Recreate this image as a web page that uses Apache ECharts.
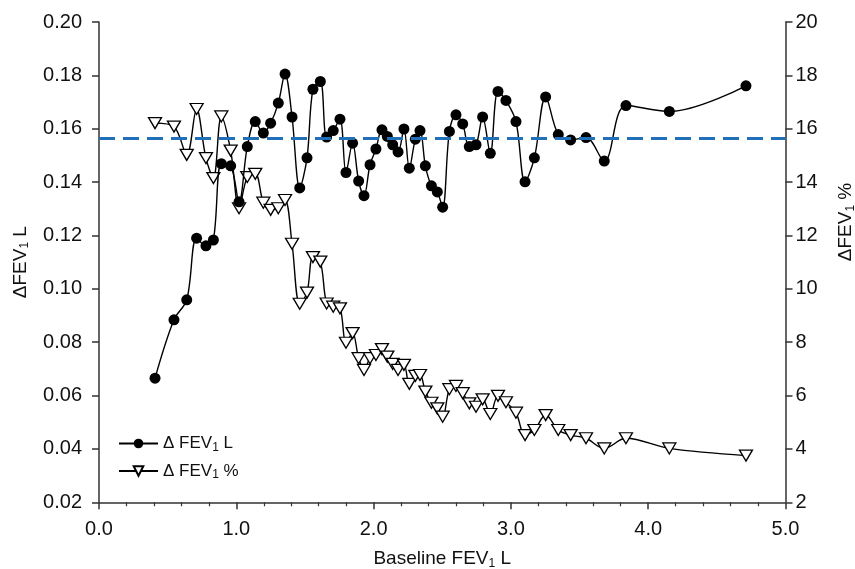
<!DOCTYPE html>
<html>
<head>
<meta charset="utf-8">
<script src="https://cdn.jsdelivr.net/npm/echarts@6/dist/echarts.min.js"></script>
<style>
  html, body { margin: 0; padding: 0; background: #fff; }
  #chart { width: 855px; height: 569px; }
</style>
</head>
<body>
<div id="chart"></div>
<script>
// Baseline FEV1 (L) for each group
const baselineFev1 = [
  0.408, 0.546, 0.639, 0.711, 0.779, 0.833, 0.891, 0.959, 1.020, 1.080,
  1.138, 1.197, 1.250, 1.306, 1.355, 1.406, 1.462, 1.515, 1.558, 1.612,
  1.658, 1.706, 1.755, 1.799, 1.847, 1.891, 1.930, 1.974, 2.017, 2.061,
  2.100, 2.139, 2.178, 2.221, 2.260, 2.304, 2.338, 2.377, 2.421, 2.464,
  2.503, 2.552, 2.600, 2.649, 2.697, 2.746, 2.794, 2.850, 2.906, 2.964,
  3.037, 3.103, 3.171, 3.253, 3.345, 3.435, 3.547, 3.680, 3.838, 4.154,
  4.712
];

// Change in FEV1, litres (left axis)
const deltaFev1L = [
  0.0665, 0.0884, 0.0959, 0.1190, 0.1161, 0.1183, 0.1469, 0.1461, 0.1326, 0.1533,
  0.1627, 0.1584, 0.1621, 0.1696, 0.1805, 0.1644, 0.1378, 0.1491, 0.1748, 0.1777,
  0.1569, 0.1593, 0.1636, 0.1436, 0.1546, 0.1404, 0.1349, 0.1465, 0.1524, 0.1596,
  0.1571, 0.1540, 0.1513, 0.1599, 0.1452, 0.1561, 0.1593, 0.1461, 0.1386, 0.1363,
  0.1306, 0.1590, 0.1652, 0.1618, 0.1533, 0.1540, 0.1644, 0.1508, 0.1740, 0.1706,
  0.1627, 0.1401, 0.1491, 0.1719, 0.1578, 0.1558, 0.1567, 0.1479, 0.1687, 0.1665,
  0.1761
];

// Change in FEV1, percent of baseline (right axis)
const deltaFev1Pct = [
  16.21, 16.08, 15.02, 16.74, 14.90, 14.15, 16.46, 15.18, 13.02, 14.19,
  14.31, 13.23, 12.96, 13.02, 13.33, 11.69, 9.44, 9.86, 11.19, 11.02,
  9.45, 9.33, 9.27, 7.98, 8.34, 7.40, 6.96, 7.40, 7.52, 7.74,
  7.46, 7.19, 6.96, 7.15, 6.44, 6.74, 6.77, 6.15, 5.73, 5.52,
  5.21, 6.24, 6.36, 6.09, 5.71, 5.58, 5.86, 5.31, 5.99, 5.75,
  5.36, 4.52, 4.71, 5.27, 4.71, 4.52, 4.40, 4.02, 4.40, 4.02,
  3.75
];

// Reference level for the litre change
const meanDeltaL = 0.1566;

const xTicks = { min: 0, max: 5, interval: 1 };
const yLeftTicks = { min: 0.02, max: 0.20, interval: 0.02 };
const yRightTicks = { min: 2, max: 20, interval: 2 };

const FONT = '"Liberation Sans", Arial, Helvetica, sans-serif';
const INK = '#111';
const AXIS = '#333';

const litreData = baselineFev1.map((x, i) => [x, deltaFev1L[i]]);
const pctData = baselineFev1.map((x, i) => [x, deltaFev1Pct[i]]);

const sub = { fontSize: 12, fontFamily: FONT, color: INK, padding: [9, 0, 0, 0] };

const axisCommon = {
  axisLine: { show: true, lineStyle: { color: AXIS, width: 1.5 } },
  axisTick: { show: true, inside: false, length: 7, lineStyle: { color: AXIS, width: 1.5 } },
  splitLine: { show: false },
  axisLabel: { color: INK, fontSize: 20, fontFamily: FONT }
};

const chart = echarts.init(document.getElementById('chart'), null, { renderer: 'canvas' });

chart.setOption({
  animation: false,
  backgroundColor: '#fff',
  grid: {
    left: 99, right: 69.5, top: 22, bottom: 66.7,
    containLabel: false,
    outerBoundsMode: 'none'
  },
  legend: {
    left: 113,
    top: 430,
    orient: 'vertical',
    itemWidth: 39,
    itemHeight: 12,
    itemGap: 9,
    textStyle: {
      color: INK, fontSize: 17, fontFamily: FONT,
      rich: {
        t: { fontSize: 17, fontFamily: FONT, color: INK },
        s: { fontSize: 12, fontFamily: FONT, color: INK, padding: [8, 0, 0, 0] }
      }
    },
    formatter: function (name) {
      return name === 'L' ? '{t|Δ FEV}{s|1}{t| L}' : '{t|Δ FEV}{s|1}{t| %}';
    },
    data: ['L', 'pct']
  },
  xAxis: Object.assign({}, axisCommon, {
    type: 'value',
    min: xTicks.min, max: xTicks.max, interval: xTicks.interval,
    minorTick: { show: true, splitNumber: 5, length: 4, lineStyle: { color: AXIS, width: 1.2 } },
    axisLabel: Object.assign({}, axisCommon.axisLabel, {
      margin: 17,
      formatter: v => v.toFixed(1)
    }),
    name: '{t|Baseline FEV}{s|1}{t| L}',
    nameLocation: 'middle',
    nameGap: 46,
    nameTextStyle: {
      rich: {
        t: { fontSize: 19, fontFamily: FONT, color: INK },
        s: sub
      }
    }
  }),
  yAxis: [
    Object.assign({}, axisCommon, {
      type: 'value',
      position: 'left',
      min: yLeftTicks.min, max: yLeftTicks.max, interval: yLeftTicks.interval,
      axisLabel: Object.assign({}, axisCommon.axisLabel, {
        margin: 17,
        formatter: v => v.toFixed(2)
      }),
      name: '{t|ΔFEV}{s|1}{t| L}',
      nameLocation: 'middle',
      nameGap: 68,
      nameTextStyle: {
        rich: {
          t: { fontSize: 19, fontFamily: FONT, color: INK },
          s: sub
        }
      }
    }),
    Object.assign({}, axisCommon, {
      type: 'value',
      position: 'right',
      min: yRightTicks.min, max: yRightTicks.max, interval: yRightTicks.interval,
      axisLabel: Object.assign({}, axisCommon.axisLabel, {
        margin: 10,
        formatter: v => String(v)
      })
    })
  ],
  graphic: [{
    type: 'text',
    x: 846,
    y: 222,
    rotation: Math.PI / 2,
    style: {
      text: '{t|ΔFEV}{s|1}{t| %}',
      align: 'center',
      verticalAlign: 'middle',
      rich: {
        t: { fontSize: 19, fontFamily: FONT, fill: INK },
        s: { fontSize: 12, fontFamily: FONT, fill: INK, padding: [9, 0, 0, 0] }
      }
    }
  }],
  series: [
    {
      name: 'L',
      type: 'line',
      yAxisIndex: 0,
      data: litreData,
      smooth: 0.35,
      symbol: 'circle',
      symbolSize: 11,
      itemStyle: { color: '#000', borderColor: '#000', borderWidth: 0 },
      lineStyle: { color: '#000', width: 1.4 },
      z: 3,
      markLine: {
        silent: true,
        symbol: 'none',
        precision: 4,
        label: { show: false },
        lineStyle: { color: '#1f70b8', width: 3, type: [16, 8] },
        data: [{ yAxis: meanDeltaL }]
      }
    },
    {
      name: 'pct',
      type: 'line',
      yAxisIndex: 1,
      data: pctData,
      smooth: 0.35,
      symbol: 'triangle',
      symbolRotate: 180,
      symbolSize: [13, 11],
      itemStyle: { color: '#fff', borderColor: '#000', borderWidth: 1.3 },
      lineStyle: { color: '#000', width: 1.4 },
      z: 2
    }
  ]
});
</script>
</body>
</html>
